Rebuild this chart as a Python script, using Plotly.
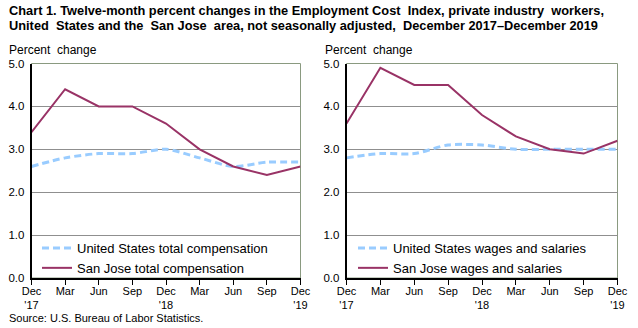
import plotly.graph_objects as go

quarters = ["Dec 2017", "Mar 2018", "Jun 2018", "Sep 2018", "Dec 2018",
            "Mar 2019", "Jun 2019", "Sep 2019", "Dec 2019"]
tick_labels = ["Dec<br>'17", "Mar", "Jun", "Sep", "Dec<br>'18", "Mar", "Jun", "Sep", "Dec<br>'19"]

us_total_comp = [2.6, 2.8, 2.9, 2.9, 3.0, 2.8, 2.6, 2.7, 2.7]
sj_total_comp = [3.4, 4.4, 4.0, 4.0, 3.6, 3.0, 2.6, 2.4, 2.6]
us_wages = [2.8, 2.9, 2.9, 3.1, 3.1, 3.0, 3.0, 3.0, 3.0]
sj_wages = [3.6, 4.9, 4.5, 4.5, 3.8, 3.3, 3.0, 2.9, 3.2]

y_ticks = [0, 1, 2, 3, 4, 5]

W, H = 638, 328
US_COLOR = "#99CCFF"
SJ_COLOR = "#993366"
FONT = "Liberation Sans, Arial, sans-serif"

fig = go.Figure()

fig.add_trace(go.Scatter(x=quarters, y=us_total_comp, mode="lines", name="United States total compensation",
                         line=dict(color=US_COLOR, width=3, dash="7px,4px", shape="spline", smoothing=0.8),
                         xaxis="x", yaxis="y", legend="legend"))
fig.add_trace(go.Scatter(x=quarters, y=sj_total_comp, mode="lines", name="San Jose total compensation",
                         line=dict(color=SJ_COLOR, width=2),
                         xaxis="x", yaxis="y", legend="legend"))
fig.add_trace(go.Scatter(x=quarters, y=us_wages, mode="lines", name="United States wages and salaries",
                         line=dict(color=US_COLOR, width=3, dash="7px,4px", shape="spline", smoothing=0.8),
                         xaxis="x2", yaxis="y2", legend="legend2"))
fig.add_trace(go.Scatter(x=quarters, y=sj_wages, mode="lines", name="San Jose wages and salaries",
                         line=dict(color=SJ_COLOR, width=2),
                         xaxis="x2", yaxis="y2", legend="legend2"))

def px_x(p):
    return p / W

def px_y(p):
    return 1 - p / H

dom_y = [px_y(278), px_y(63.5)]
dom_x1 = [px_x(31.5), px_x(300.5)]
dom_x2 = [px_x(346.5), px_x(617.5)]

xaxis_common = dict(type="category", categoryorder="array", categoryarray=quarters,
                    range=[0, len(quarters) - 1], tickmode="array", tickvals=quarters,
                    ticktext=tick_labels, ticks="outside", ticklen=5, tickcolor="black",
                    showline=True, linecolor="black", linewidth=1.5, showgrid=False,
                    zeroline=False, tickfont=dict(family=FONT, size=11, color="black"),
                    ticklabelstandoff=-3, automargin=False, fixedrange=True)
yaxis_common = dict(range=[0, 5], tickvals=y_ticks, tickformat=".1f", ticks="",
                    showline=True, linecolor="black", linewidth=1.5, showgrid=True,
                    gridcolor="#8f8f8f", gridwidth=1, zeroline=False, automargin=False,
                    tickfont=dict(family=FONT, size=11.5, color="black"), ticklabelstandoff=3)

legend_common = dict(xanchor="left", yanchor="bottom", bgcolor="rgba(0,0,0,0)",
                     font=dict(family=FONT, size=13, color="black"),
                     tracegroupgap=0, itemwidth=30)

fig.update_layout(
    width=W, height=H, margin=dict(l=0, r=0, t=0, b=0, autoexpand=False),
    paper_bgcolor="white", plot_bgcolor="white",
    font=dict(family=FONT, color="black"),
    xaxis=dict(domain=dom_x1, anchor="y", **xaxis_common),
    yaxis=dict(domain=dom_y, anchor="x", **yaxis_common),
    xaxis2=dict(domain=dom_x2, anchor="y2", **xaxis_common),
    yaxis2=dict(domain=dom_y, anchor="x2", **yaxis_common),
    legend=dict(x=px_x(37), y=px_y(283), **legend_common),
    legend2=dict(x=px_x(353), y=px_y(283), **legend_common),
    showlegend=True,
)

# plot frame (top/right borders in grey-green)
for xd in (dom_x1, dom_x2):
    fig.add_shape(type="rect", xref="paper", yref="paper", x0=xd[0], x1=xd[1], y0=dom_y[0], y1=dom_y[1],
                  line=dict(color="#8a9a80", width=1), layer="below")

title_font = dict(family="Liberation Sans, Arial", size=12.8, color="black")
fig.add_annotation(text="<b>Chart 1. Twelve-month percent changes in the Employment Cost  Index, private industry  workers,</b>",
                   xref="paper", yref="paper", x=px_x(7), y=px_y(10.5), xanchor="left", yanchor="middle",
                   showarrow=False, font=title_font)
fig.add_annotation(text="<b>United  States and the  San Jose  area, not seasonally adjusted,  December 2017–December 2019</b>",
                   xref="paper", yref="paper", x=px_x(7), y=px_y(25.5), xanchor="left", yanchor="middle",
                   showarrow=False, font=title_font)
for xp in (7, 323):
    fig.add_annotation(text="Percent  change", xref="paper", yref="paper", x=px_x(xp), y=px_y(50),
                       xanchor="left", yanchor="middle", showarrow=False,
                       font=dict(family=FONT, size=12, color="black"))
fig.add_annotation(text="Source: U.S. Bureau of Labor Statistics.", xref="paper", yref="paper",
                   x=px_x(7), y=px_y(318), xanchor="left", yanchor="middle", showarrow=False,
                   font=dict(family=FONT, size=11, color="black"))

fig.write_html("out.html")
